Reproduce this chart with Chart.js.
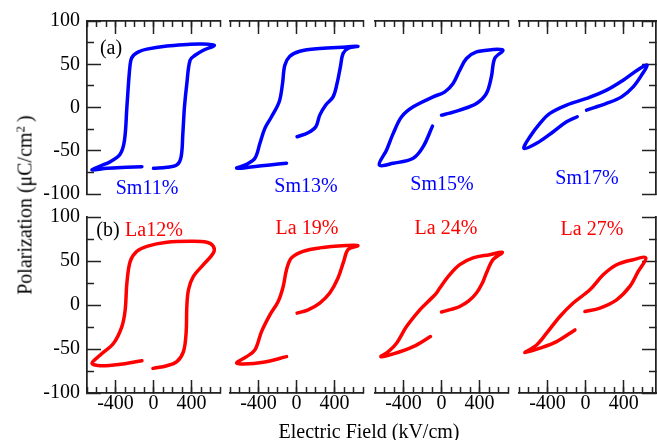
<!DOCTYPE html>
<html>
<head>
<meta charset="utf-8">
<script src="https://cdn.jsdelivr.net/npm/chart.js@4.4.1/dist/chart.umd.min.js"></script>
<style>
    html, body { margin: 0; padding: 0; background: #fff; }
    #fig { position: relative; width: 657px; height: 440px; overflow: hidden; font-family: "Liberation Serif", "DejaVu Serif", serif; }
    .panel { position: absolute; }
    .txt { position: absolute; font-size: 20px; line-height: 20px; white-space: nowrap; transform: translate(-50%, -50%); }
    .ytitle { transform: translate(-50%, -50%) rotate(-90deg); }
    .ytitle sup { font-size: 13px; position: relative; top: -0.55em; vertical-align: baseline; }
</style>
</head>
<body>
<div id="fig"></div>
<script>
// Loops: field E (kV/cm) and polarization P (uC/cm^2), in drawing order
const sm11E = [0, 141, 246, 291, 309, 326, 351, 385, 438, 525, 641, 490, 351, 141, -70, -158, -210, -238, -255, -280, -305, -350, -455, -560, -647, -490, -280, -122];
const sm11P = [-70.3, -69, -66.4, -56.8, -29.9, 0.8, 27.8, 54.7, 60.4, 66.2, 72, 73.5, 72.8, 71, 67.5, 64.4, 60.4, 54.7, 39.3, 0.8, -37.6, -53.7, -62.6, -67.6, -72.2, -70.3, -69.1, -68.4];

const sm13E = [6, 122, 203, 245, 308, 385, 427, 462, 490, 542, 647, 525, 245, 35, -70, -123, -147, -182, -263, -333, -385, -438, -525, -630, -455, -280, -105];
const sm13P = [-33.8, -29.2, -22.3, -8.8, 2.8, 12.3, 27.8, 47, 62.4, 68.2, 70.8, 70, 68.2, 65.1, 59.3, 48.9, 27.8, 6.6, -10.7, -24.1, -41.4, -58.7, -65.6, -70.2, -68.4, -66.4, -64.5];

const sm15E = [0, 87, 192, 368, 473, 525, 560, 647, 542, 368, 263, 192, 122, 35, -88, -298, -420, -508, -578, -655, -508, -298, -193, -95];
const sm15P = [-8.8, -6.5, -3, 4.7, 16.3, 35.4, 56.6, 66.2, 67, 64.2, 56.6, 43.1, 27.8, 18.1, 12.3, 0.8, -10.7, -29.9, -49.1, -66.4, -64.5, -58.7, -45.3, -21.5];

const sm17E = [10, 220, 378, 500, 588, 647, 570, 395, 220, 10, -200, -375, -480, -585, -648, -515, -340, -200, -88];
const sm17P = [-3, 4.7, 12.3, 23.9, 37.4, 48.9, 45.1, 31.6, 20.1, 10.5, 2.8, -6.8, -18.3, -33.8, -47.2, -41.4, -28, -16.5, -10.7];

const la12E = [-6, 141, 246, 315, 343, 351, 368, 420, 525, 630, 630, 561, 385, 141, -70, -175, -245, -280, -298, -333, -420, -560, -647, -560, -350, -122];
const la12P = [-72, -69, -64.4, -53, -32, -1.7, 17.3, 32.5, 45.8, 59.2, 66.7, 71.3, 72.4, 71.3, 66.7, 61, 49.6, 25, -5.5, -24.5, -43.4, -56.8, -66.2, -69, -67.4, -63.3];

const la19E = [6, 122, 245, 350, 437, 497, 542, 647, 525, 245, 69, -53, -105, -140, -193, -280, -368, -438, -525, -630, -560, -350, -105];
const la19P = [-9.2, -5.5, 2.2, 13.6, 30.7, 49.6, 62.9, 67.5, 67.5, 64.9, 61, 53.5, 40.1, 21.1, 4, -11.2, -30.2, -51.1, -58.7, -65.6, -67, -65.1, -58.7];

const la24E = [0, 100, 192, 290, 368, 430, 473, 542, 641, 507, 332, 192, 87, -18, -53, -140, -228, -368, -473, -560, -638, -508, -298, -116];
const la24P = [-8, -5, -1.7, 5, 13.6, 25, 36.4, 51.5, 59.9, 57.2, 53.5, 45.8, 34.4, 19.3, 13.6, 4, -5.5, -24.5, -43.4, -53, -58.7, -55.6, -47.3, -35.9];

const la27E = [-7, 150, 326, 465, 553, 633, 500, 326, 185, 45, -130, -270, -410, -515, -638, -480, -305, -112];
const la27P = [-7.4, -3.5, 5.9, 21.1, 38.2, 53.5, 51.5, 45.8, 34.4, 17.3, 2.2, -13.1, -32, -45.4, -54.2, -49.1, -41.6, -28.3];

const xMajorTicks = [-400, 0, 400];
const xMinorTicks = [-700, -600, -500, -400, -300, -200, -100, 0, 100, 200, 300, 400, 500, 600, 700];
const yMajorTicks = [-100, -50, 0, 50, 100];
const yMinorTicks = [-75, -25, 25, 75];

const topLabels = ['Sm11%', 'Sm13%', 'Sm15%', 'Sm17%'];
const bottomLabels = ['La12%', 'La 19%', 'La 24%', 'La 27%'];

const axisColor = '#222';
const serif = '"Liberation Serif", "DejaVu Serif", serif';

// plot boxes in page pixels
const cols = [
    { left: 87, right: 220, max: 700 },
    { left: 230, right: 363, max: 700 },
    { left: 375, right: 508, max: 700 },
    { left: 519, right: 656, max: 740 }
];
const rows = [
    { top: 21, bottom: 194, color: '#0000ff' },
    { top: 217, bottom: 393, color: '#ff0000' }
];

function fixSize(size) {
    return (scale) => {
        if (scale.isHorizontal()) scale.height = size;
        else scale.width = size;
        scale.paddingLeft = scale.paddingRight = scale.paddingTop = scale.paddingBottom = 0;
    };
}

// one axis = one set of inward ticks; major and minor sets are stacked on the same side
function tickAxis(position, min, max, values, length, size, weight, labelPad) {
    return {
        type: 'linear',
        position: position,
        min: min,
        max: max,
        weight: weight,
        afterBuildTicks: (scale) => { scale.ticks = values.map(v => ({ value: v })); },
        afterFit: fixSize(size),
        border: { display: true, color: axisColor, width: 1.5 },
        grid: { drawOnChartArea: false, drawTicks: true, tickLength: -length, tickWidth: 1.5, tickColor: axisColor },
        ticks: labelPad ? {
            display: true,
            padding: labelPad,
            color: '#000',
            font: { family: serif, size: 20 },
            callback: (v) => String(v)
        } : { display: false }
    };
}

function makePanel(row, col, xs, ys) {
    const r = rows[row], c = cols[col];
    const m = {
        left: col === 0 ? c.left : 6,
        right: col === 3 ? 657 - c.right : 6,
        top: row === 0 ? 20 : 14,
        bottom: row === 0 ? 10 : 440 - r.bottom
    };

    const box = document.createElement('div');
    box.className = 'panel';
    box.style.left = (c.left - m.left) + 'px';
    box.style.top = (r.top - m.top) + 'px';
    box.style.width = (c.right - c.left + m.left + m.right) + 'px';
    box.style.height = (r.bottom - r.top + m.top + m.bottom) + 'px';
    const canvas = document.createElement('canvas');
    box.appendChild(canvas);
    document.getElementById('fig').appendChild(box);

    const xPos = row === 0 ? 'top' : 'bottom';
    const scales = {
        x: tickAxis(xPos, -700, c.max, xMajorTicks, 13, row === 0 ? m.top : m.bottom, 1, row === 1 ? 12 : 0),
        xMinor: tickAxis(xPos, -700, c.max, xMinorTicks, 6, 0, 0, 0)
    };
    if (col === 0 || col === 3) {
        const yPos = col === 0 ? 'left' : 'right';
        scales.y = tickAxis(yPos, -100, 100, yMajorTicks, 14, col === 0 ? m.left : m.right, 1, col === 0 ? 21 : 0);
        scales.yMinor = tickAxis(yPos, -100, 100, yMinorTicks, 7, 0, 0, 0);
    } else {
        scales.y = { type: 'linear', display: false, min: -100, max: 100 };
    }

    new Chart(canvas.getContext('2d'), {
        type: 'scatter',
        data: {
            datasets: [{
                data: xs.map((e, i) => ({ x: e, y: ys[i] })),
                xAxisID: 'x',
                yAxisID: 'y',
                showLine: true,
                borderColor: r.color,
                borderWidth: 3.5,
                borderCapStyle: 'round',
                borderJoinStyle: 'round',
                tension: 0.35,
                pointRadius: 0
            }]
        },
        options: {
            responsive: true,
            maintainAspectRatio: false,
            animation: false,
            events: [],
            layout: {
                padding: {
                    left: col === 0 ? 0 : m.left,
                    right: col === 3 ? 0 : m.right,
                    top: row === 0 ? 0 : m.top,
                    bottom: row === 1 ? 0 : m.bottom
                }
            },
            scales: scales,
            plugins: { legend: { display: false }, tooltip: { enabled: false } }
        }
    });
}

function addText(html, x, y, color, extra) {
    const d = document.createElement('div');
    d.className = 'txt' + (extra ? ' ' + extra : '');
    d.style.left = x + 'px';
    d.style.top = y + 'px';
    d.style.color = color;
    d.innerHTML = html;
    document.getElementById('fig').appendChild(d);
}

document.addEventListener('DOMContentLoaded', () => {
    makePanel(0, 0, sm11E, sm11P);
    makePanel(0, 1, sm13E, sm13P);
    makePanel(0, 2, sm15E, sm15P);
    makePanel(0, 3, sm17E, sm17P);
    makePanel(1, 0, la12E, la12P);
    makePanel(1, 1, la19E, la19P);
    makePanel(1, 2, la24E, la24P);
    makePanel(1, 3, la27E, la27P);

    const topSpots = [[147, 187], [306, 185], [442, 183], [587, 177]];
    const bottomSpots = [[154, 229], [307, 227], [446, 227], [592, 228]];
    topLabels.forEach((t, i) => addText(t, topSpots[i][0], topSpots[i][1], '#0000ff'));
    bottomLabels.forEach((t, i) => addText(t, bottomSpots[i][0], bottomSpots[i][1], '#ff0000'));
    addText('(a)', 111, 47, '#000');
    addText('(b)', 108, 229, '#000');

    addText('Electric Field (kV/cm)', 369, 431, '#000');
    addText('Polarization (\u03bcC/cm<sup>2</sup>\u2009)', 26, 205, '#000', 'ytitle');
});
</script>
</body>
</html>
